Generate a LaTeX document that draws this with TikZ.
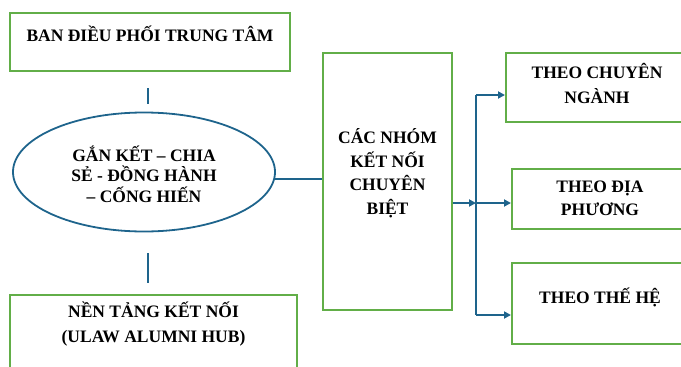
\documentclass[tikz,border=0pt]{standalone}
\usepackage{fontspec}
\setmainfont{Liberation Serif}
\usetikzlibrary{shapes.geometric,arrows.meta}
\definecolor{boxgreen}{HTML}{62AE48}
\definecolor{linkblue}{HTML}{1E648C}

\begin{document}
\begin{tikzpicture}[x=1pt,y=-1pt]
\tikzstyle{gbox}= [rectangle,draw=boxgreen,line width=2pt,inner sep=0pt]
\tikzstyle{oval}= [ellipse,draw=linkblue,line width=1.8pt,inner sep=0pt]
\tikzstyle{lbl}= [font=\fontsize{17.5}{23.5}\selectfont\bfseries,align=center,inner sep=0pt]
\tikzstyle{link}= [draw=linkblue,line width=1.8pt]
\tikzstyle{dep}= [link,-{Triangle[length=7pt,width=7pt]}]

\useasboundingbox (0,0) rectangle (681,367);
\clip (0,0) rectangle (681,367);

\path
	(150,42)    node[gbox,minimum width=280pt,minimum height=58pt] (ban) {}
	(144,172)   node[oval,minimum width=262pt,minimum height=119pt] (gk) {}
	(153.5,335) node[gbox,minimum width=287pt,minimum height=80pt] (nen) {}
	(387.5,181.5) node[gbox,minimum width=129pt,minimum height=257pt] (nhom) {}
	(598,87.5)  node[gbox,minimum width=184pt,minimum height=69pt] (nganh) {}
	(601,199)   node[gbox,minimum width=178pt,minimum height=60pt] (diaph) {}
	(601,303.5) node[gbox,minimum width=178pt,minimum height=81pt] (theh) {}
;
% texts
\node[lbl] (banT) at (150,34) {BAN ĐIỀU PHỐI TRUNG TÂM};
\node[lbl,font=\fontsize{17.5}{20.5}\selectfont\bfseries] (gkT) at (144,174) {GẮN KẾT – CHIA\\SẺ - ĐỒNG HÀNH\\– CỐNG HIẾN};
\node[lbl,font=\fontsize{17.5}{25}\selectfont\bfseries] (nenT) at (153.5,324) {NỀN TẢNG KẾT NỐI\\(ULAW ALUMNI HUB)};
\node[lbl] (nhomT) at (387.5,173) {CÁC NHÓM\\KẾT NỐI\\CHUYÊN\\BIỆT};
\node[lbl,font=\fontsize{17.5}{25}\selectfont\bfseries] (nganhT) at (597,83) {THEO CHUYÊN\\NGÀNH};
\node[lbl] (diaphT) at (600,198.5) {THEO ĐỊA\\PHƯƠNG};
\node[lbl] (thehT) at (600,297) {THEO THẾ HỆ};

% ticks
\coordinate (t1) at (148,88);
\coordinate (t2) at (148,104);
\coordinate (t3) at (148,253);
\coordinate (t4) at (148,283);
\draw[link] (t1) -- (t2);
\draw[link] (t3) -- (t4);

\draw[link] (gk.-3) -- (gk.-3 -| nhom.west);

% bus to the groups
\coordinate (bt) at (476,95);
\coordinate (bm) at (476,203);
\coordinate (bb) at (476,315);
\draw[dep] (nhom.east |- bm) -- (bm);
\draw[link] (bt) -- (bb);
\draw[dep] (bt) -- (bt -| nganh.west);
\draw[dep] (bm) -- (bm -| diaph.west);
\draw[dep] (bb) -- (bb -| theh.west);
\end{tikzpicture}
\end{document}
